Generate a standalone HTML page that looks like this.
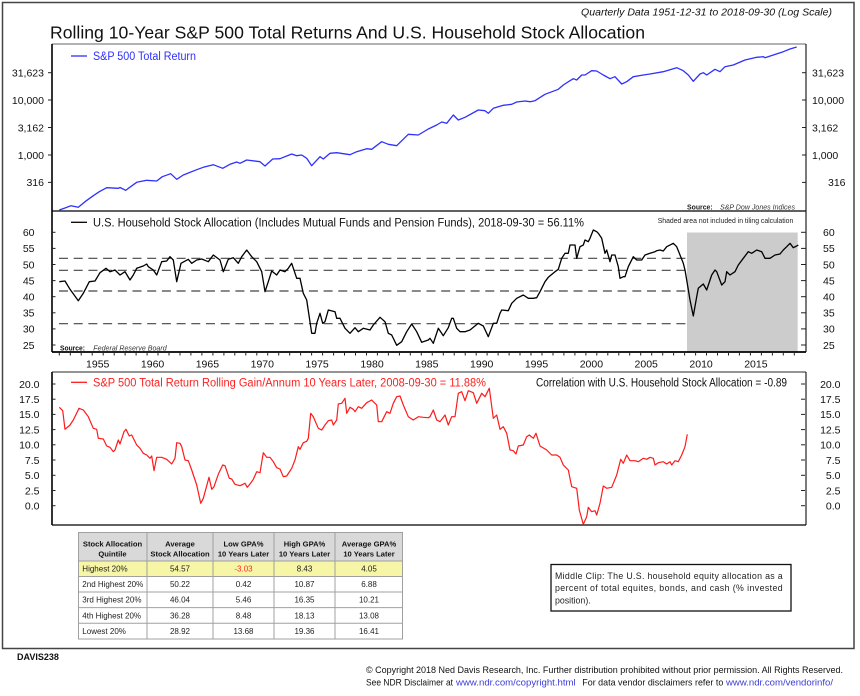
<!DOCTYPE html>
<html>
<head>
<meta charset="utf-8">
<style>
  html,body{margin:0;padding:0;background:#fff;}
  svg{display:block;}
  text{font-family:"Liberation Sans", sans-serif;}
</style>
</head>
<body>
<svg width="860" height="696" viewBox="0 0 860 696" xmlns="http://www.w3.org/2000/svg">
  <rect width="860" height="696" fill="#fff"/>
  <!-- outer frame -->
  <rect x="2.5" y="2.5" width="851.5" height="646" fill="none" stroke="#444" stroke-width="1.5"/>

  <!-- titles -->
  <text x="50" y="38.5" font-size="17.5" fill="#111" textLength="595" lengthAdjust="spacingAndGlyphs">Rolling 10-Year S&amp;P 500 Total Returns And U.S. Household Stock Allocation</text>
  <text x="581" y="15.5" font-size="9.8" font-style="italic" fill="#111" textLength="251" lengthAdjust="spacingAndGlyphs">Quarterly Data 1951-12-31 to 2018-09-30 (Log Scale)</text>

  <!-- ================= PANEL 1 ================= -->
  <line x1="52" y1="44" x2="806" y2="44" stroke="#666" stroke-width="1"/>
  <line x1="806" y1="44" x2="806" y2="211" stroke="#222" stroke-width="1.2"/>
  <line x1="52" y1="44" x2="52" y2="211" stroke="#000" stroke-width="1.6"/>
  <line x1="52" y1="211" x2="806" y2="211" stroke="#000" stroke-width="1.3"/>
  <g stroke="#222" stroke-width="1">
    <line x1="48" y1="72.7" x2="52" y2="72.7"/><line x1="48" y1="100" x2="52" y2="100"/>
    <line x1="48" y1="127.5" x2="52" y2="127.5"/><line x1="48" y1="155" x2="52" y2="155"/>
    <line x1="48" y1="182.4" x2="52" y2="182.4"/>
    <line x1="802" y1="72.7" x2="806" y2="72.7"/><line x1="802" y1="100" x2="806" y2="100"/>
    <line x1="802" y1="127.5" x2="806" y2="127.5"/><line x1="802" y1="155" x2="806" y2="155"/>
    <line x1="802" y1="182.4" x2="806" y2="182.4"/>
  </g>
  <g font-size="10.5" fill="#111" text-anchor="end">
    <text x="44" y="76.5">31,623</text><text x="44" y="103.8">10,000</text>
    <text x="44" y="131.3">3,162</text><text x="44" y="158.8">1,000</text>
    <text x="44" y="186.2">316</text>
  </g>
  <g font-size="10.5" fill="#111">
    <text x="812" y="76.5">31,623</text><text x="812" y="103.8">10,000</text>
    <text x="812" y="131.3">3,162</text><text x="812" y="158.8">1,000</text>
    <text x="828" y="186.2">316</text>
  </g>
  <line x1="71" y1="56" x2="87" y2="56" stroke="#3030ff" stroke-width="1.3"/>
  <text x="93" y="60" font-size="11.5" fill="#3030ff" textLength="103" lengthAdjust="spacingAndGlyphs">S&amp;P 500 Total Return</text>
  <text x="687" y="209.3" font-size="7.5" font-weight="bold" fill="#222" textLength="25.7" lengthAdjust="spacingAndGlyphs">Source:</text>
  <text x="720" y="209.3" font-size="7.5" font-style="italic" fill="#333" textLength="75" lengthAdjust="spacingAndGlyphs">S&amp;P Dow Jones Indices</text>
  <polyline fill="none" stroke="#3030ff" stroke-width="1.3" stroke-linejoin="round" points="59.3,210 65,208 71,205.7 78.3,207.3 85,201.7 93.3,195.7 99.3,191.7 106.7,187.7 118.3,188.3 120,187.5 125.7,190.3 136.7,182.3 146.7,180.3 156.7,181 162.3,176.7 170.7,173.7 176.7,179.3 183.3,175 196.7,169.7 203.3,167.3 213.3,164.7 222.7,168.3 230,164.3 236.7,162 240,163.3 246.7,160 260,161.7 265,166 272.7,159 280,158.7 291.7,154 296.7,155.7 301.7,155 306.7,158.3 311.7,165.7 320,156.7 323.3,159 330,153.3 336.7,152.7 350,154.7 356.7,151.7 366.7,148.7 371.7,149.3 381.7,141.7 388.3,144.3 396.7,145.7 408.3,134.3 418.3,135 428.3,129 436.7,125 441.7,122 446.7,123.3 453.3,115 458.3,120 465,117.3 478.3,110 485,110.7 488.3,113.3 493.3,108.3 503.3,105.3 511.7,104.3 516.7,102 525,101 530,101.7 535,100.7 545,94.3 558.3,89.3 563.3,85 570,80.7 573.3,78.7 576.7,80 581.7,75 585,75 591.7,70.7 596.7,71 603.3,75 610,78.7 615,76.7 621.7,84 626.7,81.7 633.3,76.7 643.3,75 650,74 663.3,71.7 676.7,67.7 683.3,70.7 688.3,75 693.3,81.3 700,74 703.3,72.7 706.7,75 715,69.3 720,71.7 725,66.7 733.3,65 745,60 756.7,57.3 763.3,56.7 765,57.7 773.3,55 783.3,51.7 790,49 796.7,47"/>

  <!-- ================= PANEL 2 ================= -->
  <rect x="687" y="232.5" width="110.7" height="119.5" fill="#cccccc"/>
  <g stroke="#444" stroke-width="1.2" stroke-dasharray="9,5.7">
    <line x1="59" y1="258.3" x2="687" y2="258.3"/>
    <line x1="59" y1="270.3" x2="687" y2="270.3"/>
    <line x1="59" y1="291" x2="687" y2="291"/>
    <line x1="59" y1="323.7" x2="687" y2="323.7"/>
  </g>
  <line x1="806" y1="211" x2="806" y2="352" stroke="#222" stroke-width="1.2"/>
  <line x1="52" y1="211" x2="52" y2="352" stroke="#000" stroke-width="1.6"/>
  <line x1="52" y1="352" x2="806" y2="352" stroke="#000" stroke-width="1.8"/>
  <g stroke="#222" stroke-width="1">
    <line x1="52" y1="232.3" x2="55.5" y2="232.3"/><line x1="52" y1="248.4" x2="55.5" y2="248.4"/>
    <line x1="52" y1="264.5" x2="55.5" y2="264.5"/><line x1="52" y1="280.6" x2="55.5" y2="280.6"/>
    <line x1="52" y1="296.7" x2="55.5" y2="296.7"/><line x1="52" y1="312.8" x2="55.5" y2="312.8"/>
    <line x1="52" y1="328.9" x2="55.5" y2="328.9"/><line x1="52" y1="345" x2="55.5" y2="345"/>
    <line x1="801" y1="232.3" x2="806" y2="232.3"/><line x1="801" y1="248.4" x2="806" y2="248.4"/>
    <line x1="801" y1="264.5" x2="806" y2="264.5"/><line x1="801" y1="280.6" x2="806" y2="280.6"/>
    <line x1="801" y1="296.7" x2="806" y2="296.7"/><line x1="801" y1="312.8" x2="806" y2="312.8"/>
    <line x1="801" y1="328.9" x2="806" y2="328.9"/><line x1="801" y1="345" x2="806" y2="345"/>
  </g>
  <!-- x ticks -->
  <g stroke="#222" stroke-width="1">
    <line x1="59.3" y1="352" x2="59.3" y2="355.5"/><line x1="70.3" y1="352" x2="70.3" y2="355.5"/><line x1="81.2" y1="352" x2="81.2" y2="355.5"/><line x1="92.2" y1="352" x2="92.2" y2="355.5"/><line x1="103.2" y1="352" x2="103.2" y2="355.5"/><line x1="114.2" y1="352" x2="114.2" y2="355.5"/><line x1="125.1" y1="352" x2="125.1" y2="355.5"/><line x1="136.1" y1="352" x2="136.1" y2="355.5"/><line x1="147.1" y1="352" x2="147.1" y2="355.5"/><line x1="158" y1="352" x2="158" y2="355.5"/><line x1="169" y1="352" x2="169" y2="355.5"/><line x1="180" y1="352" x2="180" y2="355.5"/><line x1="190.9" y1="352" x2="190.9" y2="355.5"/><line x1="201.9" y1="352" x2="201.9" y2="355.5"/><line x1="212.9" y1="352" x2="212.9" y2="355.5"/><line x1="223.9" y1="352" x2="223.9" y2="355.5"/><line x1="234.8" y1="352" x2="234.8" y2="355.5"/><line x1="245.8" y1="352" x2="245.8" y2="355.5"/><line x1="256.8" y1="352" x2="256.8" y2="355.5"/><line x1="267.7" y1="352" x2="267.7" y2="355.5"/><line x1="278.7" y1="352" x2="278.7" y2="355.5"/><line x1="289.7" y1="352" x2="289.7" y2="355.5"/><line x1="300.6" y1="352" x2="300.6" y2="355.5"/><line x1="311.6" y1="352" x2="311.6" y2="355.5"/><line x1="322.6" y1="352" x2="322.6" y2="355.5"/><line x1="333.6" y1="352" x2="333.6" y2="355.5"/><line x1="344.5" y1="352" x2="344.5" y2="355.5"/><line x1="355.5" y1="352" x2="355.5" y2="355.5"/><line x1="366.5" y1="352" x2="366.5" y2="355.5"/><line x1="377.4" y1="352" x2="377.4" y2="355.5"/><line x1="388.4" y1="352" x2="388.4" y2="355.5"/><line x1="399.4" y1="352" x2="399.4" y2="355.5"/><line x1="410.3" y1="352" x2="410.3" y2="355.5"/><line x1="421.3" y1="352" x2="421.3" y2="355.5"/><line x1="432.3" y1="352" x2="432.3" y2="355.5"/><line x1="443.3" y1="352" x2="443.3" y2="355.5"/><line x1="454.2" y1="352" x2="454.2" y2="355.5"/><line x1="465.2" y1="352" x2="465.2" y2="355.5"/><line x1="476.2" y1="352" x2="476.2" y2="355.5"/><line x1="487.1" y1="352" x2="487.1" y2="355.5"/><line x1="498.1" y1="352" x2="498.1" y2="355.5"/><line x1="509.1" y1="352" x2="509.1" y2="355.5"/><line x1="520" y1="352" x2="520" y2="355.5"/><line x1="531" y1="352" x2="531" y2="355.5"/><line x1="542" y1="352" x2="542" y2="355.5"/><line x1="553" y1="352" x2="553" y2="355.5"/><line x1="563.9" y1="352" x2="563.9" y2="355.5"/><line x1="574.9" y1="352" x2="574.9" y2="355.5"/><line x1="585.9" y1="352" x2="585.9" y2="355.5"/><line x1="596.8" y1="352" x2="596.8" y2="355.5"/><line x1="607.8" y1="352" x2="607.8" y2="355.5"/><line x1="618.8" y1="352" x2="618.8" y2="355.5"/><line x1="629.7" y1="352" x2="629.7" y2="355.5"/><line x1="640.7" y1="352" x2="640.7" y2="355.5"/><line x1="651.7" y1="352" x2="651.7" y2="355.5"/><line x1="662.7" y1="352" x2="662.7" y2="355.5"/><line x1="673.6" y1="352" x2="673.6" y2="355.5"/><line x1="684.6" y1="352" x2="684.6" y2="355.5"/><line x1="695.6" y1="352" x2="695.6" y2="355.5"/><line x1="706.5" y1="352" x2="706.5" y2="355.5"/><line x1="717.5" y1="352" x2="717.5" y2="355.5"/><line x1="728.5" y1="352" x2="728.5" y2="355.5"/><line x1="739.4" y1="352" x2="739.4" y2="355.5"/><line x1="750.4" y1="352" x2="750.4" y2="355.5"/><line x1="761.4" y1="352" x2="761.4" y2="355.5"/><line x1="772.4" y1="352" x2="772.4" y2="355.5"/><line x1="783.3" y1="352" x2="783.3" y2="355.5"/><line x1="794.3" y1="352" x2="794.3" y2="355.5"/>
  </g>
  <g font-size="10.5" fill="#111" text-anchor="middle">
    <text x="97.7" y="367.5">1955</text><text x="152.6" y="367.5">1960</text>
    <text x="207.4" y="367.5">1965</text><text x="262.3" y="367.5">1970</text>
    <text x="317.1" y="367.5">1975</text><text x="372" y="367.5">1980</text>
    <text x="426.8" y="367.5">1985</text><text x="481.7" y="367.5">1990</text>
    <text x="536.5" y="367.5">1995</text><text x="591.4" y="367.5">2000</text>
    <text x="646.2" y="367.5">2005</text><text x="701.1" y="367.5">2010</text>
    <text x="755.9" y="367.5">2015</text>
  </g>
  <g font-size="10.5" fill="#111" text-anchor="end">
    <text x="34.5" y="236.1">60</text><text x="34.5" y="252.2">55</text>
    <text x="34.5" y="268.3">50</text><text x="34.5" y="284.4">45</text>
    <text x="34.5" y="300.5">40</text><text x="34.5" y="316.6">35</text>
    <text x="34.5" y="332.7">30</text><text x="34.5" y="348.8">25</text>
  </g>
  <g font-size="10.5" fill="#111">
    <text x="823" y="236.1">60</text><text x="823" y="252.2">55</text>
    <text x="823" y="268.3">50</text><text x="823" y="284.4">45</text>
    <text x="823" y="300.5">40</text><text x="823" y="316.6">35</text>
    <text x="823" y="332.7">30</text><text x="823" y="348.8">25</text>
  </g>
  <line x1="71" y1="222.3" x2="87" y2="222.3" stroke="#000" stroke-width="1.3"/>
  <text x="93" y="226.4" font-size="11.5" fill="#111" textLength="491" lengthAdjust="spacingAndGlyphs">U.S. Household Stock Allocation (Includes Mutual Funds and Pension Funds),  2018-09-30 = 56.11%</text>
  <text x="657.7" y="223" font-size="7" fill="#222" textLength="135.6" lengthAdjust="spacingAndGlyphs">Shaded area not included in tiling calculation</text>
  <text x="60" y="350.3" font-size="7.5" font-weight="bold" fill="#111" textLength="25" lengthAdjust="spacingAndGlyphs">Source:</text>
  <text x="93.3" y="350.3" font-size="7.5" font-style="italic" fill="#333" textLength="73.4" lengthAdjust="spacingAndGlyphs">Federal Reserve Board</text>
  <polyline fill="none" stroke="#000" stroke-width="1.3" stroke-linejoin="round" points="59.3,281.7 65,281 70,289.3 78.3,300.7 83.3,293.3 89.3,281.7 95,281 100,272.7 106,268.3 110,271.7 115,270 120,275 125,271.7 130,280 133.3,275 136.7,268.3 143.3,266 146.7,264 148.3,266.7 153.3,270 156.7,275 161.7,261.7 166.7,261 170,256.7 173.3,260 176.7,281.7 181,263.3 188.3,259.3 191.7,263.3 196.7,260 201.7,259 208.3,261.7 213.3,255 220,260 223.3,271.7 228.3,259.3 233.3,257.7 238.3,263.3 241.7,256.7 246.7,250 251.7,256.7 256.7,261.7 261.7,271.7 265,291.7 268.3,281.7 271.7,271 276.7,275 280,270 285,271.7 288.3,268.3 291.7,263.3 296.7,278.3 300,278.3 303.3,293.3 306.7,300 311.7,333.3 315,333.3 316.7,323.3 320,313.3 322.7,323.3 325,321.7 328.3,310 335,311.7 336.7,318.3 340,318.3 345,328.3 350,333.3 355,327.7 358.3,331.7 363.3,328.3 370,330 373.3,325 380,317.3 385,321.7 388.3,333.3 391.7,335 396.7,345.3 401.7,341.7 406.7,331.7 411.7,324 416.7,331.7 421.7,342.3 428.3,340 430,338.3 433.3,343.3 438.3,328.3 443.3,335.7 448.3,327.7 451.7,318.3 453.3,318.3 456.7,328.3 460,331.7 465,331.7 470,330 478.3,323.3 483.3,326 488.3,336.7 493.3,323.3 496.7,323.3 500,313.3 501.7,310 508.3,310.7 511.7,303.3 516.7,298.3 523.3,295 528.3,298.3 533.3,298.3 536.7,297.7 540,291.7 545,281.7 548.3,277.3 555,271.7 558.3,269.3 561.7,258.3 565,253.3 568.3,253.3 570,245 575,245 576.7,258.3 580,246.7 583.3,245 585,240 588.3,241.7 590,238.3 593.3,230 596.7,231.7 598.3,233.3 601.7,238.3 605,253.3 606.7,250 610,261.7 611.7,255 615,255 618.3,266.7 620,278.3 623.3,276.7 625,276.7 628.3,266.7 633.3,256.7 636.7,260 641.7,260 645,255 650,253.3 655,251.7 656.7,250.7 660,250 663.3,251 666.7,246.7 673.3,243.3 676.7,246.7 680,255 683.3,263.3 685,270 686.7,280 690,300 693.3,316 696.7,296.7 698.3,288.3 703.3,284 706.7,290 711.7,275 715,270 716.7,271.7 721.7,285 725,281.7 726.7,271.7 730,275 735,271.7 738.3,265 743.3,258.3 748.3,251.7 751.7,253.3 756.7,250 761.7,251.7 765,258.3 770,258.3 775,255 780,254 783.3,250 786.7,246.7 790,243.3 793.3,247.7 796.7,246 798.3,245"/>

  <!-- ================= PANEL 3 ================= -->
  <line x1="52" y1="372" x2="806" y2="372" stroke="#555" stroke-width="1.2"/>
  <line x1="806" y1="372" x2="806" y2="525" stroke="#222" stroke-width="1.2"/>
  <line x1="52" y1="372" x2="52" y2="525" stroke="#000" stroke-width="1.6"/>
  <line x1="52" y1="525" x2="806" y2="525" stroke="#000" stroke-width="1.3"/>
  <g stroke="#222" stroke-width="1">
    <line x1="52" y1="384" x2="55.5" y2="384"/><line x1="52" y1="399.2" x2="55.5" y2="399.2"/>
    <line x1="52" y1="414.4" x2="55.5" y2="414.4"/><line x1="52" y1="429.6" x2="55.5" y2="429.6"/>
    <line x1="52" y1="444.8" x2="55.5" y2="444.8"/><line x1="52" y1="460" x2="55.5" y2="460"/>
    <line x1="52" y1="475.3" x2="55.5" y2="475.3"/><line x1="52" y1="490.5" x2="55.5" y2="490.5"/>
    <line x1="52" y1="505.7" x2="55.5" y2="505.7"/>
    <line x1="801" y1="384" x2="805" y2="384"/><line x1="801" y1="399.2" x2="805" y2="399.2"/>
    <line x1="801" y1="414.4" x2="805" y2="414.4"/><line x1="801" y1="429.6" x2="805" y2="429.6"/>
    <line x1="801" y1="444.8" x2="805" y2="444.8"/><line x1="801" y1="460" x2="805" y2="460"/>
    <line x1="801" y1="475.3" x2="805" y2="475.3"/><line x1="801" y1="490.5" x2="805" y2="490.5"/>
    <line x1="801" y1="505.7" x2="805" y2="505.7"/>
  </g>
  <g font-size="10.5" fill="#111" text-anchor="end">
    <text x="39.5" y="387.8">20.0</text><text x="39.5" y="403">17.5</text>
    <text x="39.5" y="418.2">15.0</text><text x="39.5" y="433.4">12.5</text>
    <text x="39.5" y="448.6">10.0</text><text x="39.5" y="463.8">7.5</text>
    <text x="39.5" y="479.1">5.0</text><text x="39.5" y="494.3">2.5</text>
    <text x="39.5" y="509.5">0.0</text>
  </g>
  <g font-size="10.5" fill="#111" text-anchor="end">
    <text x="840.5" y="387.8">20.0</text><text x="840.5" y="403">17.5</text>
    <text x="840.5" y="418.2">15.0</text><text x="840.5" y="433.4">12.5</text>
    <text x="840.5" y="448.6">10.0</text><text x="840.5" y="463.8">7.5</text>
    <text x="840.5" y="479.1">5.0</text><text x="840.5" y="494.3">2.5</text>
    <text x="840.5" y="509.5">0.0</text>
  </g>
  <line x1="71" y1="382.3" x2="87" y2="382.3" stroke="#ff1a1a" stroke-width="1.3"/>
  <text x="93" y="386.3" font-size="11.5" fill="#ff2020" textLength="393" lengthAdjust="spacingAndGlyphs">S&amp;P 500 Total Return Rolling Gain/Annum 10 Years Later,  2008-09-30 = 11.88%</text>
  <text x="536" y="386.3" font-size="11.5" fill="#111" textLength="251" lengthAdjust="spacingAndGlyphs">Correlation with U.S. Household Stock Allocation = -0.89</text>
  <polyline fill="none" stroke="#ff1a1a" stroke-width="1.2" stroke-linejoin="round" points="59.3,407.3 62.7,410.7 65,429.3 70,425 73.3,420 79,408.3 83.3,410 88.3,416.7 93.3,428.3 96.7,429.3 98.3,438.3 103.3,439 106.7,446 110,447.3 113.3,451.7 115,450 118.3,440 120,444 124,431.7 126,429.3 129.3,436 131.7,435 136.7,445 140,448.3 143.3,453.3 146.7,455 150,458.3 151.7,456 154,470.7 156.7,457.3 161.7,457.3 166.7,459.3 171.7,464 175,458.3 176.7,442.7 180,443.3 181.7,446.7 185,460 188.3,460.7 191.7,470 196.7,485 200.7,503.3 203.3,498.3 209,477.3 211.7,489.3 214,486.7 218.3,474.3 222.7,465 225,465.7 229.3,478.3 231.7,479 235,484.3 240,485.7 245,483.3 247.3,487.3 250,484 253.3,479.3 256.7,471.7 260,472.7 263.3,452.7 266.7,457.3 270,457.3 273.3,461.7 276.7,467.7 280,469 283.3,476.7 286.7,476 291.7,468.3 295,460 298.3,446.7 300,449.3 303.3,442.7 306.7,441.3 308.3,438.3 310.7,413.3 313.3,416.7 318.3,428.3 321.7,430 325,425 328.3,420.7 331.7,420 333.3,425 336.7,420 338.3,404 341.7,403.3 345,398.3 346.7,413.3 350,407.3 353.3,409.3 355,411.7 358.3,406.7 361.7,408.3 366.7,402.7 371.7,400 373.3,401.7 376.7,405 378.3,421.7 381.7,421.7 386.7,411.7 390,413.3 393.3,403.3 396.7,396.7 400,396 403.3,405 408.3,416.7 413.3,420 418.3,416.7 423.3,417.3 428.3,417.7 430,416.7 433.3,410 436.7,420 440,421.7 445,415 448.3,425 451.7,416.7 455,416.7 458.3,393.3 461.7,391.7 465,400.7 468.3,390.7 473.3,392.7 476.7,403.3 481.7,393.3 485,396.7 489.3,388.3 493.3,418.3 496.7,415 500,429.3 503.3,426.7 506.7,433.3 510,450 513.3,450.7 516,454 518.3,446 523.3,445 526.7,436.7 529.3,435 533.3,438.3 536,433.3 540,446 546.7,450 551.7,455 556.7,455 560,457.3 563.3,465 568.3,470 571.7,486.7 576.7,488.3 579.3,510 583.3,524.3 586.7,516.7 588.3,507.3 591.7,511.7 595,510.7 596.7,515 600,503.3 603.3,486 606.7,488.3 611.7,487.3 616.7,475 620.7,459.3 623.3,463.3 626.7,455 630,460.7 635,460.7 638.3,461.7 643.3,458.3 646.7,459.3 650,457.3 653.3,458.3 655,465 658.3,462.7 663.3,461.7 666.7,464 670,461.7 671.7,465 675,460.7 678.3,461.7 681.7,455 685,446.7 687.3,434.3"/>

  <!-- ================= TABLE ================= -->
  <rect x="78.5" y="532.5" width="324" height="28.5" fill="#d9d9d9"/>
  <rect x="78.5" y="561" width="324" height="15.5" fill="#f6f6a6"/>
  <g stroke="#a0a0a0" stroke-width="1" fill="none">
    <rect x="78.5" y="532.5" width="324" height="106.5"/>
    <line x1="78.5" y1="561" x2="402.5" y2="561"/>
    <line x1="78.5" y1="576.5" x2="402.5" y2="576.5"/>
    <line x1="78.5" y1="592" x2="402.5" y2="592"/>
    <line x1="78.5" y1="607.6" x2="402.5" y2="607.6"/>
    <line x1="78.5" y1="623.3" x2="402.5" y2="623.3"/>
    <line x1="147" y1="532.5" x2="147" y2="639"/>
    <line x1="213" y1="532.5" x2="213" y2="639"/>
    <line x1="274" y1="532.5" x2="274" y2="639"/>
    <line x1="335" y1="532.5" x2="335" y2="639"/>
  </g>
  <g font-size="7.6" font-weight="bold" fill="#111" text-anchor="middle">
    <text x="112.5" y="546.5">Stock Allocation</text><text x="112.5" y="556.5">Quintile</text>
    <text x="180" y="546.5">Average</text><text x="180" y="556.5">Stock Allocation</text>
    <text x="243.5" y="546.5">Low GPA%</text><text x="243.5" y="556.5">10 Years Later</text>
    <text x="304.5" y="546.5">High GPA%</text><text x="304.5" y="556.5">10 Years Later</text>
    <text x="369" y="546.5">Average GPA%</text><text x="369" y="556.5">10 Years Later</text>
  </g>
  <g font-size="8" fill="#222">
    <text x="82.3" y="571.6">Highest 20%</text>
    <text x="82.3" y="587.1">2nd Highest 20%</text>
    <text x="82.3" y="602.7">3rd Highest 20%</text>
    <text x="82.3" y="618.3">4th Highest 20%</text>
    <text x="82.3" y="633.9">Lowest 20%</text>
  </g>
  <g font-size="8" fill="#222" text-anchor="middle">
    <text x="180" y="571.6">54.57</text><text x="243.5" y="571.6" fill="#ff2a2a">-3.03</text><text x="304.5" y="571.6">8.43</text><text x="369" y="571.6">4.05</text>
    <text x="180" y="587.1">50.22</text><text x="243.5" y="587.1">0.42</text><text x="304.5" y="587.1">10.87</text><text x="369" y="587.1">6.88</text>
    <text x="180" y="602.7">46.04</text><text x="243.5" y="602.7">5.46</text><text x="304.5" y="602.7">16.35</text><text x="369" y="602.7">10.21</text>
    <text x="180" y="618.3">36.28</text><text x="243.5" y="618.3">8.48</text><text x="304.5" y="618.3">18.13</text><text x="369" y="618.3">13.08</text>
    <text x="180" y="633.9">28.92</text><text x="243.5" y="633.9">13.68</text><text x="304.5" y="633.9">19.36</text><text x="369" y="633.9">16.41</text>
  </g>

  <!-- note box -->
  <rect x="551" y="564.5" width="240" height="46.5" fill="#fff" stroke="#111" stroke-width="1.3"/>
  <g font-size="8.8" fill="#222">
    <text x="555" y="578.9" textLength="227.7" lengthAdjust="spacing">Middle  Clip:  The U.S.  household equity  allocation  as  a</text>
    <text x="555" y="590.9" textLength="227.7" lengthAdjust="spacing">percent  of total equites,  bonds,  and  cash  (%  invested</text>
    <text x="555" y="603.4">position).</text>
  </g>

  <!-- footer -->
  <text x="17" y="660" font-size="9" font-weight="bold" fill="#111">DAVIS238</text>
  <text x="366" y="673" font-size="8.8" fill="#111" textLength="477" lengthAdjust="spacingAndGlyphs">© Copyright 2018 Ned Davis Research, Inc. Further distribution prohibited without prior permission. All Rights Reserved.</text>
  <text x="366" y="685.5" font-size="8.8" fill="#111" textLength="87" lengthAdjust="spacingAndGlyphs">See NDR Disclaimer at</text>
  <text x="456" y="685.5" font-size="8.8" fill="#3b3bd6" textLength="119.7" lengthAdjust="spacingAndGlyphs">www.ndr.com/copyright.html</text>
  <text x="582.3" y="685.5" font-size="8.8" fill="#111" textLength="141" lengthAdjust="spacingAndGlyphs">For data vendor disclaimers refer to</text>
  <text x="726" y="685.5" font-size="8.8" fill="#3b3bd6" textLength="107" lengthAdjust="spacingAndGlyphs">www.ndr.com/vendorinfo/</text>
</svg>
</body>
</html>
